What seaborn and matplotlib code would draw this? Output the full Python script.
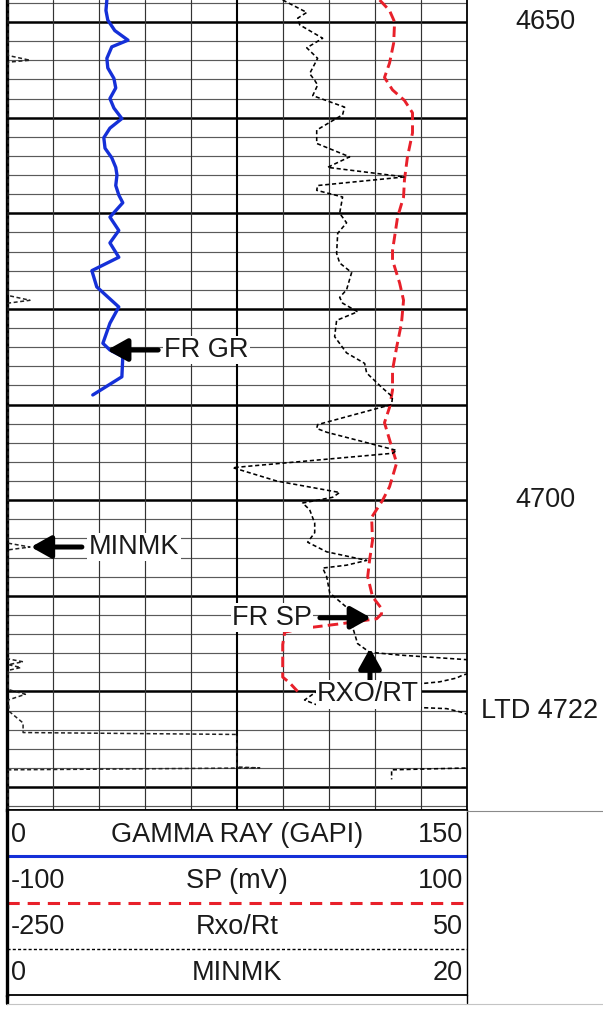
import matplotlib
matplotlib.use("Agg")
import matplotlib.pyplot as plt
import matplotlib.transforms as mtransforms
from matplotlib.lines import Line2D
import numpy as np
import pandas as pd
import seaborn as sns

# Curve samples (depth in ft, values in curve units)
gr_depth = [4647.7, 4648.8, 4649.8, 4650.9, 4651.9, 4652.6, 4653.8, 4654.8, 4655.9, 4656.9,
            4658.0, 4659.0, 4660.1, 4661.1, 4662.1, 4663.2, 4664.2, 4665.2, 4666.0, 4667.1,
            4668.1, 4668.9, 4670.4, 4671.8, 4673.1, 4674.6, 4676.0, 4677.7, 4679.8, 4681.5,
            4683.6, 4684.3, 4685.0, 4687.1, 4689.0]
gr_api = [32.6, 32.3, 32.9, 35.2, 39.5, 34.2, 32.6, 32.9, 34.9, 35.5,
          33.6, 34.9, 37.5, 33.6, 31.6, 32.0, 34.2, 35.5, 35.9, 35.5,
          36.5, 37.8, 33.6, 36.5, 33.6, 36.5, 27.7, 29.3, 36.5, 33.6,
          31.3, 33.6, 37.8, 37.5, 28.0]

sp_depth = [4647.7, 4648.8, 4650.0, 4652.2, 4654.3, 4655.8, 4657.1, 4658.2, 4659.5, 4661.6,
            4664.1, 4666.5, 4668.3, 4670.4, 4673.9, 4674.9, 4677.3, 4679.1, 4681.5, 4684.0,
            4686.4, 4688.5, 4690.3, 4691.9, 4694.4, 4696.1, 4698.6, 4700.0, 4701.8, 4704.2,
            4706.3, 4708.0, 4710.1, 4711.2, 4711.9, 4712.4, 4712.9, 4713.3, 4713.5, 4713.8,
            4715.1, 4718.5, 4719.1, 4720.0]
sp_mv = [62.2, 66.5, 68.7, 68.3, 66.5, 64.3, 67.8, 73.0, 76.5, 76.5,
         74.3, 73.0, 72.6, 70.0, 67.8, 67.8, 70.9, 72.6, 71.7, 69.6,
         67.8, 67.8, 66.5, 64.3, 67.4, 69.6, 66.5, 63.5, 58.7, 59.1,
         57.8, 57.0, 59.1, 62.6, 63.0, 60.9, 46.1, 32.6, 27.4, 20.9,
         20.0, 20.0, 23.0, 26.5]

rxo_depth = [4647.7, 4649.0, 4649.6, 4650.3, 4651.7, 4652.7, 4653.8, 4655.4, 4656.1, 4656.6,
             4657.7, 4658.9, 4659.7, 4661.3, 4662.7, 4664.1, 4665.2, 4666.2, 4667.1, 4667.6,
             4668.3, 4670.0, 4671.0, 4672.1, 4674.2, 4675.2, 4676.2, 4678.0, 4678.8, 4679.4,
             4680.3, 4681.2, 4682.9, 4684.6, 4685.7, 4686.7, 4688.2, 4689.2, 4690.0, 4692.1,
             4692.5, 4692.9, 4694.8, 4695.1, 4696.6, 4698.0, 4699.2, 4699.7, 4700.3, 4701.0,
             4702.4, 4703.4, 4704.4, 4705.4, 4706.3, 4706.8, 4707.1, 4708.0, 4709.7, 4711.2,
             4711.8, 4713.3, 4715.0, 4715.9, 4716.2, 4716.7, 4718.1, 4718.3, 4718.6, 4719.0,
             4719.2, 4720.0, 4720.9, 4721.4, 4721.7, 4721.8, 4722.2, 4722.5, 4728.0, 4728.2,
             4729.2]
rxo_ratio = [-70.0, -54.3, -60.2, -58.9, -43.9, -54.3, -47.2, -52.4, -49.1, -47.2,
             -50.4, -29.6, -30.9, -47.8, -47.8, -26.3, -40.7, 9.6, -47.2, -47.8,
             -30.9, -32.8, -28.3, -34.1, -34.8, -32.8, -25.0, -28.3, -32.8, -30.9,
             -21.1, -34.8, -36.1, -28.3, -16.5, -15.2, -5.4, 1.7, 1.1, -47.2,
             -47.8, -41.3, 4.4, 1.7, -102.6, -73.9, -32.8, -37.4, -57.0, -52.4,
             -49.1, -49.1, -53.7, -41.3, -15.2, -28.3, -43.9, -41.3, -39.3, -28.3,
             -21.7, -24.3, -21.1, -13.3, 6.3, 52.0, 52.0, 47.4, 43.5, 32.4,
             19.4, -47.8, -55.7, -47.8, 21.3, 37.0, 47.4, 52.0, 52.0, 1.1,
             1.1]

minmk_depth = [4647.7, 4653.5, 4654.0, 4654.2, 4678.6, 4679.1, 4679.4, 4704.5, 4704.9, 4705.2,
               4716.6, 4716.9, 4717.2, 4717.5, 4717.8, 4719.8, 4720.3, 4720.9, 4722.1, 4723.3,
               4724.3, 4724.5, 4727.9, 4728.0, 4728.2, 4732.4]
minmk_val = [0.05, 0.05, 1.0, 0.05, 0.05, 1.0, 0.05, 0.05, 1.0, 0.05,
             0.05, 0.7, 0.05, 0.6, 0.05, 0.05, 0.8, 0.05, 0.1, 0.7,
             0.7, 10.0, 10.0, 11.0, 0.05, 0.05]

# header scales
scale_names = ["GAMMA RAY (GAPI)", "SP (mV)", "Rxo/Rt", "MINMK"]
scale_min = [0, -100, -250, 0]
scale_max = [150, 100, 50, 20]

depth_marks = ["4650", "4700", "LTD 4722"]
depth_mark_at = [4650, 4700, 4722]

TOP, BASE = 4647.7, 4732.4
W, H = 603, 1009
FS = 19.5
INK = "#1a1a1a"
BLUE = "#1530d8"
RED = "#e8202a"

sns.set_style("white")
plt.rcParams["font.family"] = ["Liberation Sans", "DejaVu Sans"]

fig = plt.figure(figsize=(W / 100, H / 100), dpi=100)


def px_box(x0, y0, x1, y1):
    return [x0 / W, 1 - y1 / H, (x1 - x0) / W, (y1 - y0) / H]


def fig_line(x0, y0, x1, y1, **kw):
    fig.add_artist(Line2D([x0 / W, x1 / W], [1 - y0 / H, 1 - y1 / H],
                          transform=fig.transFigure, **kw))


def draw_curve(ax_, depth, vals, lo, hi, **kw):
    df = pd.DataFrame({"depth": depth, "value": vals})
    sns.lineplot(data=df, x="value", y="depth", sort=False, estimator=None, ax=ax_,
                 solid_joinstyle="round", dash_joinstyle="round", **kw)
    ax_.set_xlim(lo, hi)
    ax_.set(xlabel="", ylabel="")


# 1. Track with depth grid
ax = fig.add_axes(px_box(7, 0, 466.5, 810))
for d in np.arange(4648, 4733, 2):
    major = d % 10 == 0
    ax.axhline(d, color="black" if major else "#5a5a5a", lw=1.8 if major else 0.85, zorder=1)
for g in np.arange(15, 150, 15):
    ax.axvline(g, color="black" if g == 75 else "#333333", lw=1.5 if g == 75 else 0.85, zorder=1)

# 2. Curves, each on its own x scale
draw_curve(ax, gr_depth, gr_api, scale_min[0], scale_max[0], color=BLUE, lw=2.4, zorder=3)
ax_sp = ax.twiny()
draw_curve(ax_sp, sp_depth, sp_mv, scale_min[1], scale_max[1],
           color=RED, lw=2.1, linestyle=(0, (3.6, 1.8)))
ax_rx = ax.twiny()
draw_curve(ax_rx, rxo_depth, rxo_ratio, scale_min[2], scale_max[2],
           color="black", lw=1.15, linestyle=(0, (2.6, 1.7)))
ax_mk = ax.twiny()
draw_curve(ax_mk, minmk_depth, minmk_val, scale_min[3], scale_max[3],
           color="#222222", lw=1.1, linestyle=(0, (2.6, 1.7)))

ax.set_ylim(BASE, TOP)
for a in [ax, ax_sp, ax_rx, ax_mk]:
    a.set_xticks([])
    a.set_yticks([])
    if a is not ax:
        for s in a.spines.values():
            s.set_visible(False)
ax.spines["top"].set_visible(False)
ax.spines["left"].set_linewidth(2.4)
ax.spines["right"].set_linewidth(1.3)
ax.spines["bottom"].set_linewidth(1.2)
for s in ax.spines.values():
    s.set_color("black")

# 3. Callouts
blend = mtransforms.blended_transform_factory(ax_mk.transAxes, ax_mk.transData)
arrow = dict(arrowstyle="-|>,head_length=0.75,head_width=0.42", lw=3.6, color="black",
             shrinkA=0, shrinkB=0, mutation_scale=16)
box = dict(facecolor="white", edgecolor="none", pad=1.0)


def callout(text, tip, tail, text_xy, ha):
    ax_mk.annotate("", xy=tip, xytext=tail, xycoords=blend, textcoords=blend,
                   arrowprops=arrow, zorder=10)
    ax_mk.text(text_xy[0], text_xy[1], text, transform=blend, ha=ha, va="center",
               fontsize=FS, color=INK, bbox=box, zorder=11)


callout("FR GR", (0.218, 4684.3), (0.329, 4684.3), (0.342, 4684.3), "left")
callout("MINMK", (0.052, 4704.9), (0.163, 4704.9), (0.178, 4704.9), "left")
callout("FR SP", (0.792, 4712.3), (0.681, 4712.3), (0.664, 4712.3), "right")
callout("RXO/RT", (0.790, 4715.5), (0.790, 4718.8), (0.786, 4720.3), "center")

# 4. Depth labels right of the track
side = mtransforms.blended_transform_factory(ax.transAxes, ax.transData)
for lab, d, xf in zip(depth_marks, depth_mark_at, [1.171, 1.171, 1.160]):
    ax.text(xf, d, lab, transform=side, ha="center", va="center", fontsize=FS,
            color=INK, clip_on=False)

# 5. Header with curve scales
hx = fig.add_axes(px_box(7, 810, 466.5, 995))
hx.set_xlim(0, 1)
hx.set_ylim(4, 0)
for i, (name, lo, hi) in enumerate(zip(scale_names, scale_min, scale_max)):
    yc = i + 0.53
    hx.text(0.008, yc, f"{lo}", ha="left", va="center", fontsize=FS, color=INK)
    hx.text(0.5, yc, name, ha="center", va="center", fontsize=FS, color=INK)
    hx.text(0.992, yc, f"{hi}", ha="right", va="center", fontsize=FS, color=INK)
hx.axhline(1, color=BLUE, lw=2.2)
hx.axhline(2, color=RED, lw=2.2, linestyle=(0, (4.0, 2.6)))
hx.axhline(3, color="black", lw=1.0, linestyle=(0, (2.2, 1.6)))
hx.set_xticks([])
hx.set_yticks([])
hx.spines["left"].set_linewidth(2.4)
hx.spines["right"].set_linewidth(1.0)
hx.spines["top"].set_linewidth(1.2)
hx.spines["bottom"].set_linewidth(1.3)
for s in hx.spines.values():
    s.set_color("black")

# 6. Frame remnants outside the axes
fig_line(7, 995, 7, 1003, color="black", lw=2.4)
fig_line(466.5, 995, 466.5, 1003, color="black", lw=1.0)
fig_line(466.5, 811, 603, 811, color="#8a8a8a", lw=0.8)
fig_line(7, 1003.5, 603, 1003.5, color="#c4c4c4", lw=0.8)

fig.savefig("out.png", dpi=100)
